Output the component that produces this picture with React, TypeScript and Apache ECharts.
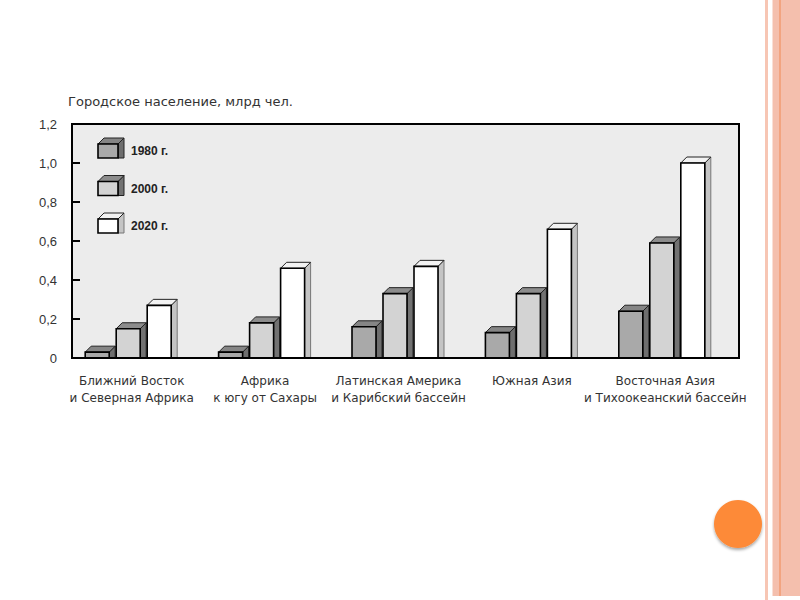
import React, { useEffect, useRef } from "react";
import * as echarts from "echarts";

const categories = [
  "Ближний Восток\nи Северная Африка",
  "Африка\nк югу от Сахары",
  "Латинская Америка\nи Карибский бассейн",
  "Южная Азия",
  "Восточная Азия\nи Тихоокеанский бассейн",
];
const years = ["1980 г.", "2000 г.", "2020 г."];
const values1980 = [0.03, 0.03, 0.16, 0.13, 0.24];
const values2000 = [0.15, 0.18, 0.33, 0.33, 0.59];
const values2020 = [0.27, 0.46, 0.47, 0.66, 1.0];
const yTicks = [0, 0.2, 0.4, 0.6, 0.8, 1.0, 1.2];
const title = "Городское население, млрд чел.";

const seriesValues = [values1980, values2000, values2020];
const palettes = [
  { front: "#a9a9a9", side: "#6e6e6e", top: "#858585" },
  { front: "#d3d3d3", side: "#727272", top: "#8c8c8c" },
  { front: "#ffffff", side: "#c4c4c4", top: "#f2f2f2" },
];

const FONT = "'Liberation Sans', Arial, sans-serif";
const WIDE = "'DejaVu Sans', 'Liberation Sans', sans-serif";
const FRONT_W = 24;
const SLOT = 31;
const DEPTH = 6;

function box3d(x0: number, yTop: number, yBase: number, w: number, p: any, sideStroke: string) {
  const x1 = x0 + w;
  return [
    {
      type: "polygon",
      shape: { points: [[x1, yTop], [x1 + DEPTH, yTop - DEPTH], [x1 + DEPTH, yBase], [x1, yBase]] },
      style: { fill: p.side, stroke: sideStroke, lineWidth: 1 },
    },
    {
      type: "polygon",
      shape: { points: [[x0, yTop], [x0 + DEPTH, yTop - DEPTH], [x1 + DEPTH, yTop - DEPTH], [x1, yTop]] },
      style: { fill: p.top, stroke: "#222", lineWidth: 1 },
    },
    {
      type: "rect",
      shape: { x: x0, y: yTop, width: w, height: yBase - yTop },
      style: { fill: p.front, stroke: "#000", lineWidth: 1.6 },
    },
  ];
}

export default function App() {
  const ref = useRef<HTMLDivElement>(null);
  useEffect(() => {
    document.body.style.margin = "0";
    const chart = echarts.init(ref.current!, null, { renderer: "svg" });

    const series = years.map((name, si) => ({
      type: "custom",
      name,
      z: 5,
      data: seriesValues[si].map((v, i) => [i, v]),
      renderItem: (params: any, api: any) => {
        const idx = api.value(0);
        const val = api.value(1);
        const top = api.coord([idx, val]);
        const base = api.coord([idx, 0]);
        const x0 = top[0] - 46.5 + si * SLOT;
        return {
          type: "group",
          children: box3d(x0, top[1], base[1], FRONT_W, palettes[si], si === 2 ? "#777" : "#222"),
        };
      },
    }));

    const legendGraphics: any[] = [];
    years.forEach((name, si) => {
      const cy = 151 + si * 37.5;
      legendGraphics.push({
        type: "group",
        z: 20,
        children: box3d(98, cy - 7, cy + 7, 20, palettes[si], si === 2 ? "#777" : "#222").map((c: any) => ({ ...c, z: 20 })),
      });
      legendGraphics.push({
        type: "text",
        z: 20,
        x: 131,
        y: cy,
        style: {
          text: name,
          fill: "#222",
          font: `bold 12px ${FONT}`,
          textVerticalAlign: "middle",
        },
      });
    });

    chart.setOption({
      animation: false,
      backgroundColor: "#ffffff",
      textStyle: { fontFamily: FONT },
      grid: { left: 65, width: 667, top: 124, height: 234 },
      xAxis: {
        type: "category",
        data: categories,
        axisLine: { show: false },
        axisTick: { show: false },
        axisLabel: {
          margin: 14,
          fontSize: 12,
          lineHeight: 17,
          color: "#333",
          fontFamily: WIDE,
          interval: 0,
        },
      },
      yAxis: {
        type: "value",
        min: yTicks[0],
        max: yTicks[yTicks.length - 1],
        interval: 0.2,
        offset: -7,
        axisLine: { show: false },
        splitLine: { show: false },
        axisTick: { show: true, inside: true, length: 8, lineStyle: { color: "#000", width: 2 } },
        axisLabel: {
          margin: 15,
          fontSize: 13,
          color: "#333",
          fontFamily: FONT,
          formatter: (v: number) => (v === 0 ? "0" : v.toFixed(1).replace(".", ",")),
        },
      },
      series,
      graphic: [
        {
          type: "rect",
          z: 0,
          shape: { x: 72, y: 124, width: 667, height: 234 },
          style: { fill: "#ececec", stroke: "none" },
        },
        {
          type: "rect",
          z: 30,
          shape: { x: 72, y: 124, width: 667, height: 234 },
          style: { fill: "none", stroke: "#000", lineWidth: 2 },
        },
        {
          type: "text",
          x: 68,
          y: 101,
          style: { text: title, fill: "#333", font: `13px ${WIDE}`, textVerticalAlign: "middle" },
        },
        ...legendGraphics,
        {
          type: "rect",
          shape: { x: 765, y: 0, width: 3, height: 600 },
          style: { fill: "#f7c6b4" },
        },
        {
          type: "rect",
          shape: { x: 772.5, y: 0, width: 27.5, height: 596 },
          style: { fill: "#f4bfad" },
        },
        {
          type: "rect",
          shape: { x: 779.5, y: 0, width: 1, height: 596 },
          style: { fill: "#ef8a55" },
        },
        {
          type: "circle",
          shape: { cx: 738, cy: 524, r: 24 },
          style: {
            fill: "#fd8a38",
            shadowColor: "rgba(0,0,0,0.35)",
            shadowBlur: 3,
            shadowOffsetY: 2,
          },
        },
      ],
    });
    return () => chart.dispose();
  }, []);
  return <div ref={ref} style={{ position: "fixed", left: 0, top: 0, width: 800, height: 600 }} />;
}
